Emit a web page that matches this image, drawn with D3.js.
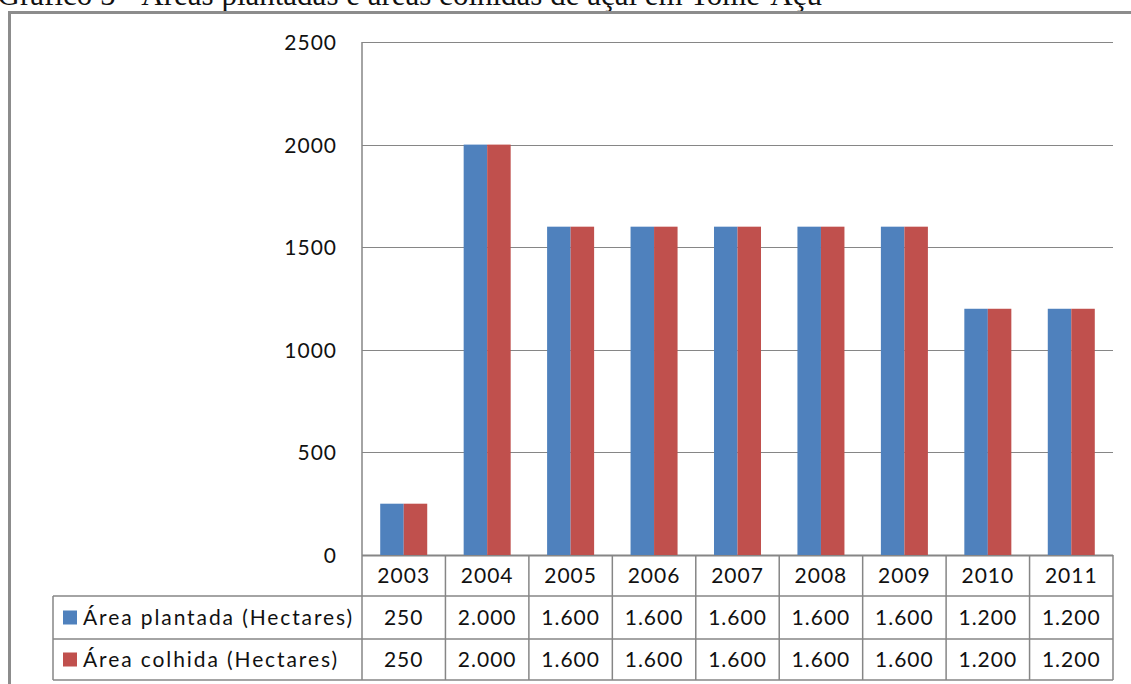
<!DOCTYPE html>
<html>
<head>
<meta charset="utf-8">
<script src="https://cdn.jsdelivr.net/npm/d3@7"></script>
<style>
  html, body { margin: 0; padding: 0; background: #fff; }
  svg { display: block; }
  .lbl { font-family: Lato, "Open Sans", sans-serif; font-size: 21px; letter-spacing: 1px; fill: #111; }
  .leg { letter-spacing: 1.9px; }
  .title { font-family: "Liberation Serif", "Times New Roman", serif; font-size: 31px; fill: #111; }
</style>
</head>
<body>
<svg id="chart" width="1131" height="684"></svg>
<script>
// Área plantada e colhida de açaí (hectares), 2003–2011
const years = ["2003", "2004", "2005", "2006", "2007", "2008", "2009", "2010", "2011"];
const plantada = [250, 2000, 1600, 1600, 1600, 1600, 1600, 1200, 1200];
const colhida = [250, 2000, 1600, 1600, 1600, 1600, 1600, 1200, 1200];
const seriesNames = ["Área plantada (Hectares)", "Área colhida (Hectares)"];
const seriesColors = ["#4F81BD", "#C0504D"];
const yTicks = [0, 500, 1000, 1500, 2000, 2500];

const series = [plantada, colhida];
const svg = d3.select("#chart");
const grid = "#868686";

// plot frame
const plotLeft = 362, plotRight = 1113, plotTop = 42, plotBottom = 555;
const rowH = [41, 43, 41];
const tableLeft = 53;

const x = d3.scaleBand().domain(years).range([plotLeft, plotRight]).paddingInner(0).paddingOuter(0);
const inner = d3.scaleBand().domain(d3.range(series.length)).range([0, x.bandwidth()]).paddingOuter(0.775).paddingInner(0);
const y = d3.scaleLinear().domain([0, 2500]).range([plotBottom, plotTop]);

// title
svg.append("text").attr("class", "title")
  .attr("x", 822).attr("y", 5).attr("text-anchor", "end")
  .text("Gráfico 5 - Áreas plantadas e áreas colhidas de açaí em Tomé-Açu");

// outer chart border
svg.append("rect")
  .attr("x", 9.5).attr("y", 12.5).attr("width", 1140).attr("height", 700)
  .attr("fill", "none").attr("stroke", "#8c8c8c").attr("stroke-width", 3);

// horizontal gridlines
svg.append("g").selectAll("line").data(yTicks).join("line")
  .attr("x1", plotLeft).attr("x2", plotRight)
  .attr("y1", d => Math.round(y(d)) + 0.5).attr("y2", d => Math.round(y(d)) + 0.5)
  .attr("stroke", grid).attr("stroke-width", d => d === 0 ? 2 : 1.2);

// y-axis labels
const yAxis = d3.axisLeft(y).tickValues(yTicks).tickSize(0).tickPadding(0).tickFormat(d3.format("d"));
const ya = svg.append("g").attr("transform", "translate(337,0)").call(yAxis);
ya.select(".domain").remove();
ya.attr("font-family", null).attr("font-size", null);
ya.selectAll("text").attr("class", "lbl").attr("dy", "0.36em").attr("fill", "#111");

// bars
const groups = svg.append("g").selectAll("g").data(years).join("g")
  .attr("transform", d => `translate(${x(d)},0)`);
groups.selectAll("rect").data((d, i) => series.map((s, k) => ({ k, v: s[i] }))).join("rect")
  .attr("x", d => inner(d.k))
  .attr("width", inner.bandwidth())
  .attr("y", d => y(d.v))
  .attr("height", d => y(0) - y(d.v))
  .attr("fill", d => seriesColors[d.k]);

// data table
const rowTops = [plotBottom, plotBottom + rowH[0], plotBottom + rowH[0] + rowH[1]];
const tableBottom = rowTops[2] + rowH[2];
const tbl = svg.append("g").attr("stroke", grid).attr("stroke-width", 1.5);

// vertical separators
tbl.selectAll("line.v").data(d3.range(years.length + 1)).join("line")
  .attr("x1", i => i < years.length ? x(years[i]) : plotRight)
  .attr("x2", i => i < years.length ? x(years[i]) : plotRight)
  .attr("y1", i => i === 0 ? plotTop : plotBottom)
  .attr("y2", tableBottom);
tbl.append("line").attr("x1", tableLeft).attr("x2", tableLeft).attr("y1", rowTops[1]).attr("y2", tableBottom);
// horizontal rules
tbl.selectAll("line.h").data([rowTops[1], rowTops[2], tableBottom]).join("line")
  .attr("x1", tableLeft).attr("x2", plotRight)
  .attr("y1", d => d).attr("y2", d => d);

// header years
svg.append("g").selectAll("text").data(years).join("text")
  .attr("class", "lbl")
  .attr("x", d => x(d) + x.bandwidth() / 2)
  .attr("y", rowTops[0] + rowH[0] / 2)
  .attr("dy", "0.36em").attr("text-anchor", "middle")
  .text(d => d);

// value rows
const fmt = v => v >= 1000 ? d3.format(",")(v).replace(",", ".") : String(v);
series.forEach((s, k) => {
  const cy = rowTops[k + 1] + rowH[k + 1] / 2;
  svg.append("g").selectAll("text").data(s).join("text")
    .attr("class", "lbl")
    .attr("x", (d, i) => x(years[i]) + x.bandwidth() / 2)
    .attr("y", cy).attr("dy", "0.36em").attr("text-anchor", "middle")
    .text(d => fmt(d));
  svg.append("rect")
    .attr("x", 63).attr("y", cy - 7).attr("width", 14).attr("height", 14)
    .attr("fill", seriesColors[k]);
  svg.append("text").attr("class", "lbl leg")
    .attr("x", 83).attr("y", cy).attr("dy", "0.36em")
    .text(seriesNames[k]);
});
</script>
</body>
</html>
